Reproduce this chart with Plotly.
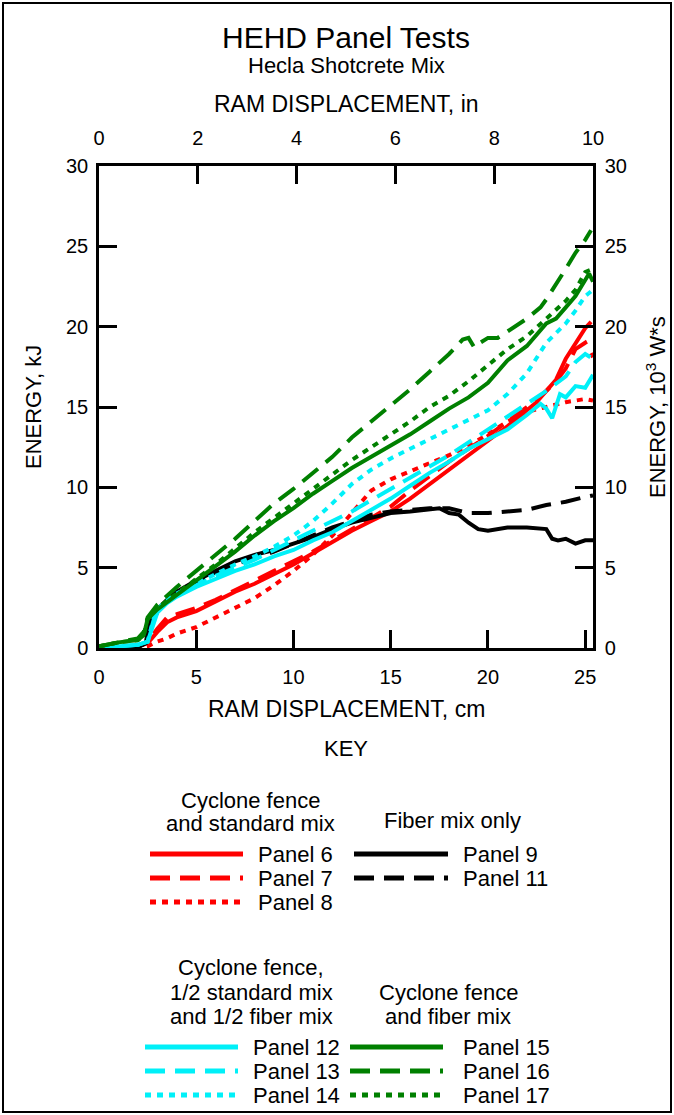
import plotly.graph_objects as go

# ---------------- data (RAM displacement in cm, energy in kJ) ----------------
p6_x = [0, 1, 2, 2.5, 3, 3.5, 4, 5, 6, 7, 8, 9, 10, 11, 12, 13, 14, 15, 16, 17, 18, 19, 20, 21, 22, 22.5, 23, 23.5, 24, 24.5, 25, 25.3]
p6_y = [0, 0, 0.1, 0.3, 1.0, 1.6, 1.9, 2.3, 2.9, 3.5, 4.0, 4.6, 5.2, 5.9, 6.6, 7.3, 7.9, 8.5, 9.3, 10.2, 11.1, 12.0, 12.9, 13.8, 14.8, 15.3, 16.0, 16.7, 18.0, 19.0, 19.9, 20.3]

p7_x = [0, 1, 2, 2.5, 3, 3.5, 4, 5, 6, 7, 8, 9, 10, 11, 12, 13, 14, 15, 16, 17, 18, 19, 20, 21, 22, 23, 23.5, 24, 24.5, 25, 25.4]
p7_y = [0, 0, 0.1, 0.4, 1.2, 1.9, 2.1, 2.5, 3.0, 3.6, 4.2, 4.8, 5.4, 6.0, 6.7, 7.4, 8.1, 8.8, 9.8, 10.7, 11.6, 12.4, 13.2, 14.1, 15.0, 16.0, 16.6, 17.4, 18.6, 19.0, 18.1]

p8_x = [0, 1, 2, 2.5, 3, 3.5, 4, 5, 6, 7, 8, 9, 10, 11, 12, 13, 14, 15, 16, 17, 18, 19, 20, 21, 22, 23, 24, 25, 25.4]
p8_y = [0, 0, 0, 0.1, 0.4, 0.6, 0.9, 1.3, 1.9, 2.5, 3.1, 3.9, 4.8, 5.8, 7.0, 8.4, 9.8, 10.5, 11.0, 11.5, 12.0, 12.6, 13.3, 14.1, 14.7, 15.0, 15.3, 15.5, 15.4]

p9_x = [0, 1, 2, 2.4, 2.6, 3, 3.5, 4, 5, 6, 7, 8, 9, 10, 11, 12, 13, 14, 15, 16, 17, 17.5, 18, 18.5, 19, 19.5, 20, 21, 22, 23, 23.3, 23.6, 24, 24.5, 25, 25.4]
p9_y = [0, 0, 0.05, 0.3, 1.6, 2.4, 3.0, 3.5, 4.2, 4.8, 5.4, 5.8, 6.1, 6.5, 6.9, 7.4, 7.8, 8.1, 8.4, 8.5, 8.6, 8.7, 8.4, 8.3, 7.8, 7.4, 7.3, 7.5, 7.5, 7.4, 6.8, 6.7, 6.8, 6.5, 6.7, 6.7]

p11_x = [0, 1, 2, 2.4, 2.6, 3, 3.5, 4, 5, 6, 7, 8, 9, 10, 11, 12, 13, 14, 15, 16, 17, 18, 19, 20, 21, 22, 23, 24, 25, 25.4]
p11_y = [0, 0, 0.05, 0.3, 1.4, 2.2, 2.9, 3.4, 4.1, 4.7, 5.2, 5.6, 6.0, 6.5, 7.0, 7.5, 7.9, 8.3, 8.5, 8.6, 8.7, 8.7, 8.4, 8.4, 8.5, 8.6, 8.9, 9.1, 9.4, 9.5]

p12_x = [0, 1, 2, 2.5, 2.8, 3, 3.5, 4, 5, 6, 7, 8, 9, 10, 11, 12, 13, 14, 15, 16, 17, 18, 19, 20, 21, 22, 22.7, 23, 23.3, 23.7, 24, 24.5, 25, 25.4]
p12_y = [0, 0.1, 0.2, 0.4, 1.6, 2.2, 2.8, 3.2, 3.8, 4.3, 4.8, 5.2, 5.7, 6.1, 6.7, 7.2, 7.9, 8.6, 9.3, 10.1, 10.9, 11.6, 12.4, 13.0, 13.6, 14.5, 15.2, 14.9, 14.3, 15.8, 15.6, 16.3, 16.2, 17.0]

p13_x = [0, 1, 2, 2.5, 2.8, 3, 3.5, 4, 5, 6, 7, 8, 9, 10, 11, 12, 13, 14, 15, 16, 17, 18, 19, 20, 21, 22, 23, 24, 24.5, 25, 25.4]
p13_y = [0, 0.1, 0.2, 0.4, 1.7, 2.3, 2.9, 3.3, 3.9, 4.5, 5.0, 5.5, 6.1, 6.7, 7.3, 7.9, 8.5, 9.2, 9.9, 10.6, 11.3, 12.0, 12.8, 13.6, 14.4, 15.2, 16.0, 16.9, 17.8, 18.3, 18.0]

p14_x = [0, 1, 2, 2.5, 2.8, 3, 3.5, 4, 5, 6, 7, 8, 9, 10, 11, 12, 13, 14, 15, 16, 17, 18, 19, 20, 21, 22, 23, 24, 24.5, 25, 25.4]
p14_y = [0, 0.1, 0.2, 0.4, 1.8, 2.4, 3.0, 3.4, 4.0, 4.6, 5.2, 5.7, 6.3, 7.0, 7.9, 9.0, 10.2, 11.1, 11.8, 12.4, 13.0, 13.6, 14.2, 14.8, 15.8, 17.1, 19.0, 20.2, 21.0, 21.9, 22.3]

p15_x = [0, 1, 2, 2.3, 2.5, 3, 4, 5, 6, 7, 8, 9, 10, 11, 12, 13, 14, 15, 16, 17, 18, 19, 20, 21, 22, 23, 23.5, 24, 24.5, 25, 25.2, 25.4]
p15_y = [0.1, 0.35, 0.5, 0.8, 1.8, 2.4, 3.3, 4.2, 5.1, 6.0, 7.0, 7.9, 8.7, 9.6, 10.4, 11.2, 11.9, 12.6, 13.3, 14.1, 14.9, 15.6, 16.5, 17.9, 18.8, 20.2, 20.5, 21.2, 21.9, 22.9, 23.3, 22.8]

p16_x = [0, 1, 2, 2.3, 2.5, 3, 4, 5, 6, 7, 8, 9, 10, 11, 12, 13, 14, 15, 16, 17, 18, 18.7, 19, 19.3, 19.6, 20, 20.5, 21, 22, 22.7, 23, 24, 24.5, 25, 25.3]
p16_y = [0.1, 0.35, 0.6, 1.0, 1.9, 2.7, 3.8, 4.8, 5.8, 6.8, 7.9, 9.0, 9.9, 10.9, 11.9, 13.1, 14.1, 15.1, 16.1, 17.2, 18.3, 19.2, 19.3, 18.7, 19.0, 19.3, 19.3, 19.7, 20.5, 21.2, 21.7, 23.6, 24.6, 25.4, 26.0]

p17_x = [0, 1, 2, 2.3, 2.5, 3, 4, 5, 6, 7, 8, 9, 10, 11, 12, 13, 14, 15, 16, 17, 18, 19, 20, 21, 22, 23, 24, 24.5, 25, 25.4]
p17_y = [0.1, 0.35, 0.5, 0.8, 1.8, 2.5, 3.4, 4.3, 5.2, 6.2, 7.2, 8.1, 9.0, 9.9, 10.8, 11.7, 12.5, 13.3, 14.1, 15.0, 15.7, 16.6, 17.6, 18.6, 19.4, 20.5, 21.6, 22.3, 23.4, 23.6]

x_ticks_cm = [0, 5, 10, 15, 20, 25]
x_ticks_in = [0, 2, 4, 6, 8, 10]
y_ticks = [0, 5, 10, 15, 20, 25, 30]

RED, BLACK, CYAN, GREEN = "#FF0000", "#000000", "#00F0F8", "#008000"
DASH, DOT = "20px,10px", "6px,6px"

series = [
    ("Panel 6", p6_x, p6_y, RED, "solid"),
    ("Panel 7", p7_x, p7_y, RED, DASH),
    ("Panel 8", p8_x, p8_y, RED, DOT),
    ("Panel 9", p9_x, p9_y, BLACK, "solid"),
    ("Panel 11", p11_x, p11_y, BLACK, DASH),
    ("Panel 12", p12_x, p12_y, CYAN, "solid"),
    ("Panel 13", p13_x, p13_y, CYAN, DASH),
    ("Panel 14", p14_x, p14_y, CYAN, DOT),
    ("Panel 15", p15_x, p15_y, GREEN, "solid"),
    ("Panel 16", p16_x, p16_y, GREEN, DASH),
    ("Panel 17", p17_x, p17_y, GREEN, DOT),
]

key_groups = [
    (["Cyclone fence", "and standard mix"], ["Panel 6", "Panel 7", "Panel 8"]),
    (["Fiber mix only"], ["Panel 9", "Panel 11"]),
    (["Cyclone fence,", "1/2 standard mix", "and 1/2 fiber mix"], ["Panel 12", "Panel 13", "Panel 14"]),
    (["Cyclone fence", "and fiber mix"], ["Panel 15", "Panel 16", "Panel 17"]),
]

# ---------------- figure ----------------
W, H = 674, 1115
L, R, T, B = 99, 593, 166, 648
FONT = "Arial, Liberation Sans, sans-serif"

def px(x):
    return (x - L) / (R - L)

def py(y):
    return (B - y) / (B - T)

fig = go.Figure()
for name, xs, ys, col, dash in series:
    fig.add_trace(go.Scatter(x=xs, y=ys, mode="lines", name=name, showlegend=False,
                             line=dict(color=col, width=4, dash=dash)))
fig.add_trace(go.Scatter(x=[None], y=[None], xaxis="x2", yaxis="y2", showlegend=False, hoverinfo="skip"))

axis_common = dict(showline=True, linecolor="black", linewidth=2.5, ticks="inside", ticklen=18,
                   tickwidth=2.5, tickcolor="black", showgrid=False, zeroline=False,
                   tickfont=dict(family=FONT, size=20, color="black"))

fig.update_layout(
    width=W, height=H, margin=dict(l=L, r=W - R, t=T, b=H - B),
    paper_bgcolor="white", plot_bgcolor="white", showlegend=False,
    xaxis=dict(range=[0, 25.4], tickvals=x_ticks_cm, side="bottom", ticklabelstandoff=9, **axis_common),
    xaxis2=dict(range=[0, 10], tickvals=x_ticks_in, side="top", overlaying="x", anchor="y", ticklabelstandoff=10, **axis_common),
    yaxis=dict(range=[0, 30], tickvals=y_ticks, side="left", ticklabelstandoff=4, **axis_common),
    yaxis2=dict(range=[0, 30], tickvals=y_ticks, side="right", overlaying="y", anchor="x", ticklabelstandoff=5, **axis_common),
)

ann = []
def text(x, y, s, size=22, xanchor="center", textangle=0):
    ann.append(dict(x=px(x), y=py(y), xref="paper", yref="paper", text=s, showarrow=False,
                    xanchor=xanchor, yanchor="middle", textangle=textangle,
                    font=dict(family=FONT, size=size, color="black")))

text(346, 37, "HEHD Panel Tests", size=30)
text(346, 65, "Hecla Shotcrete Mix", size=22)
text(346, 104, "RAM DISPLACEMENT, in", size=23)
text(346, 709, "RAM DISPLACEMENT, cm", size=23)
text(346, 748, "KEY", size=22)
text(33, 407, "ENERGY, kJ", size=22, textangle=-90)
text(656, 407, "ENERGY, 10<sup>3</sup> W*s", size=22, textangle=-90)

# key layout: (title center x, title line ys, title size, line x0, line x1, text x, row ys)
key_pos = [
    (250, [800, 823], 22, 150, 243, 256, [854, 878, 902]),
    (452, [820], 22, 354, 448, 461, [854, 878]),
    (251, [968, 992, 1016], 22, 145, 238, 251, [1047, 1071, 1095]),
    (448, [992, 1016], 22, 350, 443, 461, [1047, 1071, 1095]),
]
style = {s[0]: (s[3], s[4]) for s in series}
shapes = []
for (titles, names), (tcx, tys, tsz, lx0, lx1, tx, rys) in zip(key_groups, key_pos):
    for t, ty in zip(titles, tys):
        text(tcx, ty, t, size=tsz)
    for nm, ry in zip(names, rys):
        col, dash = style[nm]
        shapes.append(dict(type="line", xref="paper", yref="paper", x0=px(lx0), x1=px(lx1),
                           y0=py(ry), y1=py(ry), line=dict(color=col, width=5, dash=dash)))
        text(tx, ry, nm, size=22, xanchor="left")

shapes.append(dict(type="rect", xref="paper", yref="paper", x0=px(3), x1=px(671), y0=py(3), y1=py(1112),
                   line=dict(color="black", width=2)))

fig.update_layout(annotations=ann, shapes=shapes)
fig.write_html("out.html", config={"displayModeBar": False},
               post_script="document.body.style.margin='0';document.body.style.padding='0';")
